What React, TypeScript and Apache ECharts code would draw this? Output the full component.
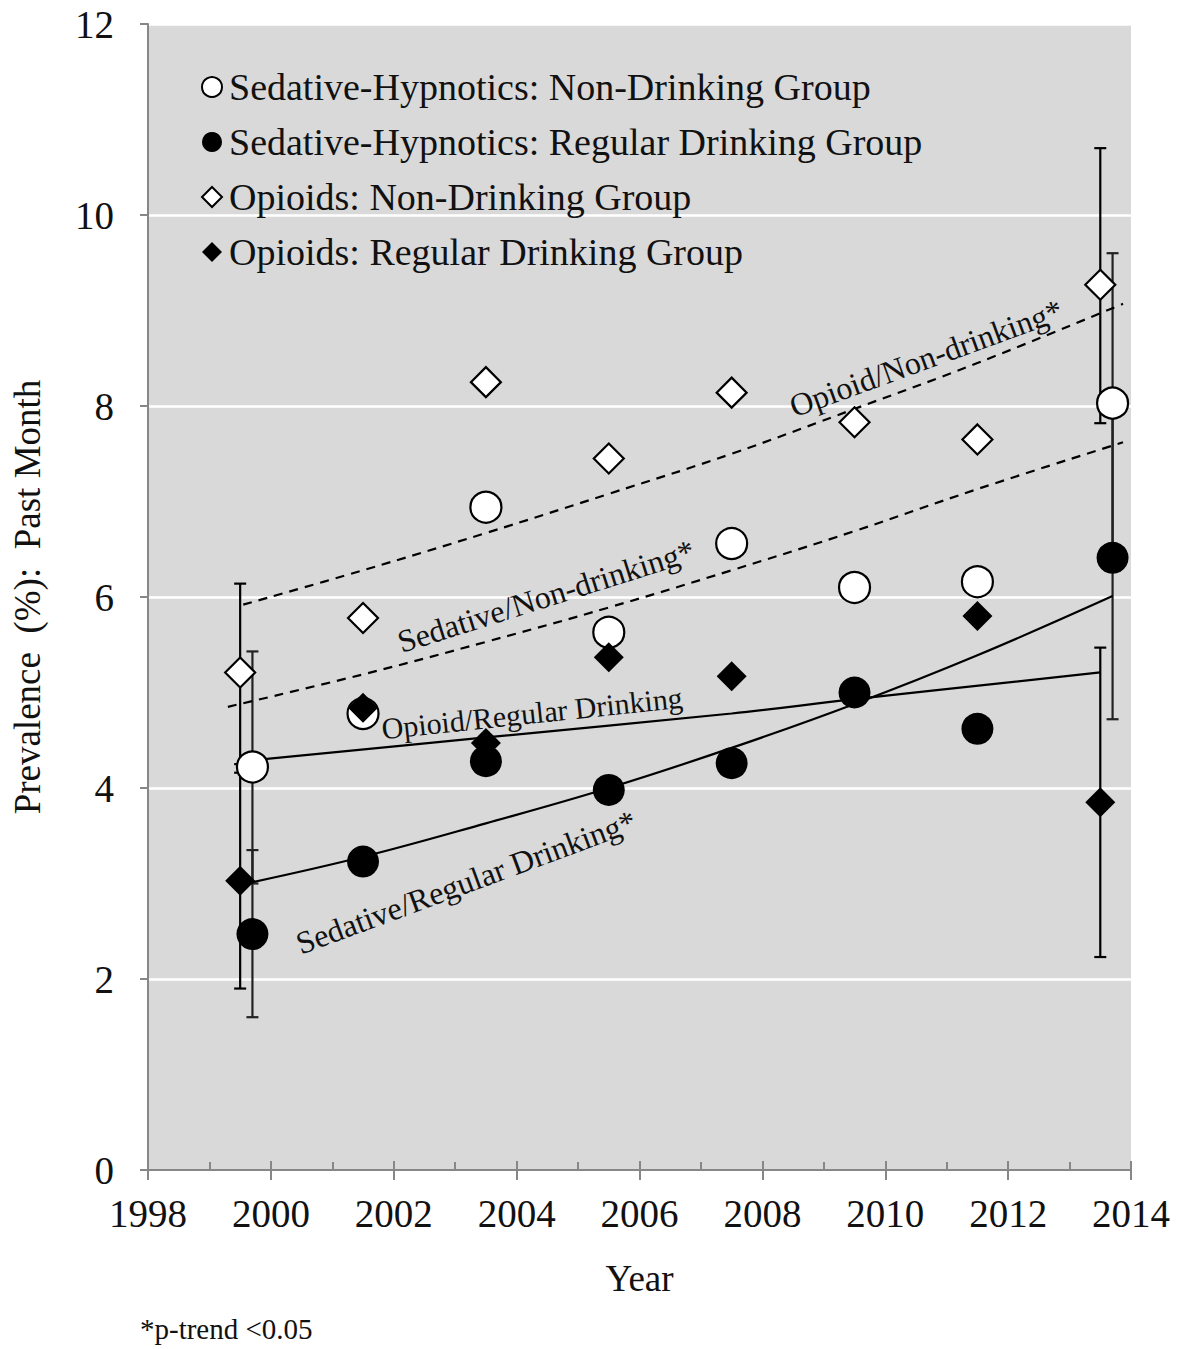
import React, { useEffect, useRef } from "react";
import * as echarts from "echarts";

// ---- data ----
const sedX = [1999.7, 2001.5, 2003.5, 2005.5, 2007.5, 2009.5, 2011.5, 2013.7];
const opX = [1999.5, 2001.5, 2003.5, 2005.5, 2007.5, 2009.5, 2011.5, 2013.5];

const sedNonDrinking = [4.22, 4.78, 6.94, 5.63, 6.56, 6.1, 6.16, 8.03];
const sedRegular = [2.47, 3.23, 4.28, 3.98, 4.26, 5.0, 4.62, 6.41];
const opNonDrinking = [5.21, 5.78, 8.25, 7.45, 8.14, 7.83, 7.65, 9.27];
const opRegular = [3.03, 4.84, 4.47, 5.37, 5.17, 5.0, 5.8, 3.85];

// error bars [x, low, high]
const sedNonErr = [[1999.7, 3.0, 5.43], [2013.7, 6.46, 9.6]];
const sedRegErr = [[1999.7, 1.6, 3.35], [2013.7, 4.72, 8.1]];
const opNonErr = [[1999.5, 4.25, 6.14], [2013.5, 7.82, 10.7]];
const opRegErr = [[1999.5, 1.9, 4.16], [2013.5, 2.23, 5.47]];

// fitted trend curves
const opNonTrendX = [1999.55, 2001.5, 2003.5, 2005.5, 2007.5, 2009.5, 2011.5, 2013.87];
const opNonTrendY = [5.92, 6.28, 6.67, 7.08, 7.5, 7.97, 8.45, 9.07];
const sedNonTrendX = [1999.3, 2001.5, 2003.5, 2005.5, 2007.5, 2009.5, 2011.5, 2013.87];
const sedNonTrendY = [4.85, 5.19, 5.53, 5.89, 6.28, 6.69, 7.13, 7.62];
const opRegTrendX = [1999.7, 2003.5, 2007.5, 2009.5, 2013.5];
const opRegTrendY = [4.29, 4.53, 4.78, 4.93, 5.21];
const sedRegTrendX = [1999.6, 2001.5, 2003.5, 2005.5, 2007.5, 2009.5, 2011.5, 2013.7];
const sedRegTrendY = [3.0, 3.28, 3.63, 4.0, 4.42, 4.88, 5.39, 6.01];

const seriesNames = [
  "Sedative-Hypnotics: Non-Drinking Group",
  "Sedative-Hypnotics: Regular Drinking Group",
  "Opioids: Non-Drinking Group",
  "Opioids: Regular Drinking Group",
];

const xTicks = { min: 1998, max: 2014, interval: 2 };
const yTicks = { min: 0, max: 12, interval: 2 };

const FONT = "'Liberation Serif', 'Times New Roman', serif";

const zip = (xs: number[], ys: number[]) => xs.map((x, i) => [x, ys[i]]);

function errorSeries(data: number[][], color: string) {
  return {
    type: "custom",
    xAxisIndex: 0,
    z: 1,
    silent: true,
    data,
    encode: { x: 0, y: [1, 2] },
    renderItem: (_p: any, api: any) => {
      const x = api.value(0);
      const lo = api.coord([x, api.value(1)]);
      const hi = api.coord([x, api.value(2)]);
      const w = 6;
      const style = { stroke: color, lineWidth: 2.2 };
      return {
        type: "group",
        children: [
          { type: "line", shape: { x1: lo[0], y1: lo[1], x2: hi[0], y2: hi[1] }, style },
          { type: "line", shape: { x1: lo[0] - w, y1: lo[1], x2: lo[0] + w, y2: lo[1] }, style },
          { type: "line", shape: { x1: hi[0] - w, y1: hi[1], x2: hi[0] + w, y2: hi[1] }, style },
        ],
      };
    },
  };
}

function trendSeries(xs: number[], ys: number[], dashed: boolean) {
  return {
    type: "line",
    xAxisIndex: 0,
    z: 2,
    silent: true,
    data: zip(xs, ys),
    smooth: 0.4,
    showSymbol: false,
    symbol: "none",
    lineStyle: { color: "#000", width: 2.2, type: dashed ? [9, 7] : "solid" },
  };
}

export default function App() {
  const ref = useRef<HTMLDivElement>(null);
  useEffect(() => {
    document.body.style.margin = "0";
    const chart = echarts.init(ref.current!, undefined, { renderer: "svg" });
    const labelStyle = (text: string, size = 32) => ({
      text,
      fill: "#111",
      font: `${size}px ${FONT}`,
      align: "center",
      verticalAlign: "middle",
    });
    const deg = Math.PI / 180;
    chart.setOption({
      animation: false,
      backgroundColor: "#fff",
      grid: {
        left: 148,
        right: 54,
        top: 24,
        bottom: 179,
        show: true,
        backgroundColor: "#d9d9d9",
        borderWidth: 0,
      },
      legend: {
        orient: "vertical",
        left: 196,
        top: 63,
        itemWidth: 20,
        itemHeight: 20,
        itemGap: 17,
        data: seriesNames,
        textStyle: { fontFamily: FONT, fontSize: 38, color: "#111", padding: [0, 0, 0, 2] },
        selectedMode: false,
      },
      xAxis: [
        {
          type: "value",
          position: "bottom",
          ...xTicks,
          axisLine: { show: true, lineStyle: { color: "#878787", width: 2 } },
          axisTick: { show: true, length: 10, lineStyle: { color: "#878787", width: 2 } },
          axisLabel: {
            fontFamily: FONT,
            fontSize: 39,
            color: "#111",
            margin: 24,
            formatter: (v: number) => String(v),
          },
          splitLine: { show: false },
          name: "Year",
          nameLocation: "middle",
          nameGap: 90,
          nameTextStyle: { fontFamily: FONT, fontSize: 37, color: "#111" },
        },
        {
          type: "value",
          position: "bottom",
          ...xTicks,
          axisLine: { show: false },
          axisTick: { show: true, inside: true, length: 9, lineStyle: { color: "#878787", width: 2 } },
          minorTick: { show: true, splitNumber: 2, length: 8, lineStyle: { color: "#878787", width: 2 } },
          axisLabel: { show: false },
          splitLine: { show: false },
        },
      ],
      yAxis: {
        type: "value",
        ...yTicks,
        axisLine: { show: true, lineStyle: { color: "#878787", width: 2 } },
        axisTick: { show: true, length: 8, lineStyle: { color: "#878787", width: 2 } },
        axisLabel: { fontFamily: FONT, fontSize: 39, color: "#111", margin: 34 },
        splitLine: { show: true, lineStyle: { color: "#ffffff", width: 2.5 } },
        name: "Prevalence  (%):  Past Month",
        nameLocation: "middle",
        nameRotate: 90,
        nameGap: 102,
        nameTextStyle: { fontFamily: FONT, fontSize: 37, color: "#111" },
      },
      series: [
        errorSeries(sedNonErr, "#222"),
        errorSeries(sedRegErr, "#222"),
        errorSeries(opNonErr, "#000"),
        errorSeries(opRegErr, "#000"),
        trendSeries(opNonTrendX, opNonTrendY, true),
        trendSeries(sedNonTrendX, sedNonTrendY, true),
        trendSeries(opRegTrendX, opRegTrendY, false),
        trendSeries(sedRegTrendX, sedRegTrendY, false),
        {
          name: seriesNames[0],
          type: "scatter",
          xAxisIndex: 0,
          z: 3,
          symbol: "circle",
          symbolSize: 31,
          data: zip(sedX, sedNonDrinking),
          itemStyle: { color: "#fff", borderColor: "#000", borderWidth: 2.2, opacity: 1 },
        },
        {
          name: seriesNames[1],
          type: "scatter",
          xAxisIndex: 0,
          z: 4,
          symbol: "circle",
          symbolSize: 32,
          data: zip(sedX, sedRegular),
          itemStyle: { color: "#000", borderColor: "#000", borderWidth: 0, opacity: 1 },
        },
        {
          name: seriesNames[2],
          type: "scatter",
          xAxisIndex: 0,
          z: 5,
          symbol: "diamond",
          symbolSize: 30,
          data: zip(opX, opNonDrinking),
          itemStyle: { color: "#fff", borderColor: "#000", borderWidth: 2.2, opacity: 1 },
        },
        {
          name: seriesNames[3],
          type: "scatter",
          xAxisIndex: 0,
          z: 6,
          symbol: "diamond",
          symbolSize: 30,
          data: zip(opX, opRegular),
          itemStyle: { color: "#000", borderColor: "#000", borderWidth: 0, opacity: 1 },
        },
      ],
      graphic: [
        { type: "text", x: 926, y: 358, rotation: 20 * deg, style: labelStyle("Opioid/Non-drinking*"), z: 10 },
        { type: "text", x: 546, y: 596, rotation: 17.5 * deg, style: labelStyle("Sedative/Non-drinking*"), z: 10 },
        { type: "text", x: 532, y: 713, rotation: 6 * deg, style: labelStyle("Opioid/Regular Drinking", 30), z: 10 },
        { type: "text", x: 466, y: 882, rotation: 20.3 * deg, style: labelStyle("Sedative/Regular Drinking*"), z: 10 },
        {
          type: "text",
          left: 140,
          top: 1314,
          style: { text: "*p-trend <0.05", fill: "#111", font: `29px ${FONT}` },
        },
      ],
    });
    return () => chart.dispose();
  }, []);
  return <div ref={ref} style={{ width: 1185, height: 1349 }} />;
}
